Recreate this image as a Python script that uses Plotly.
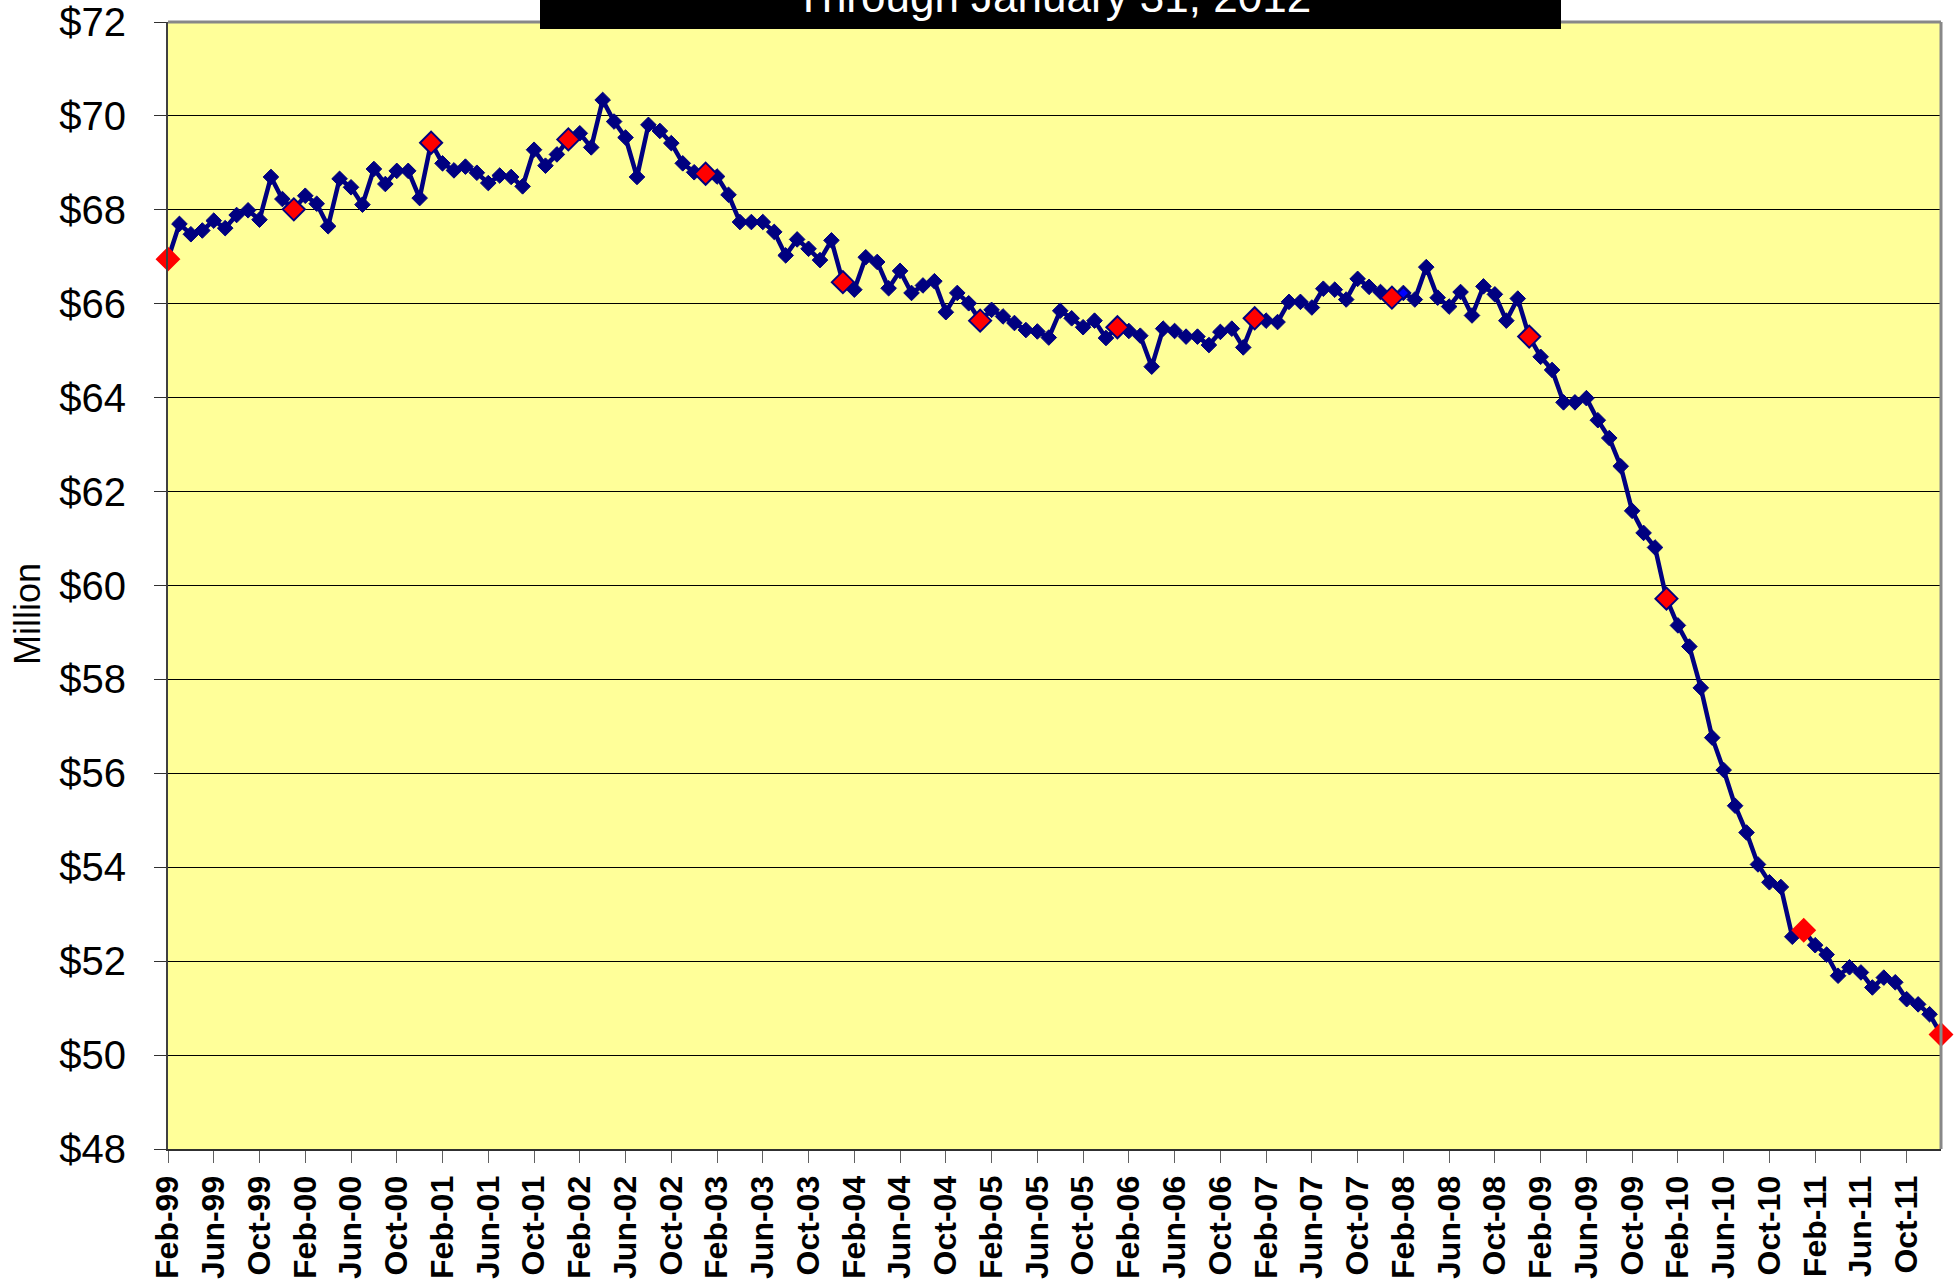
import plotly.graph_objects as go

# ---- data -------------------------------------------------------------
month_names = ["Jan", "Feb", "Mar", "Apr", "May", "Jun",
               "Jul", "Aug", "Sep", "Oct", "Nov", "Dec"]
start_year, start_month = 1999, 2     # Feb-99
n_months = 156                        # through Jan-12

categories = []
for i in range(n_months):
    mi = (start_month - 1 + i) % 12
    yr = start_year + (start_month - 1 + i) // 12
    categories.append(f"{month_names[mi]}-{yr % 100:02d}")

values = [
    66.95, 67.70, 67.48, 67.56, 67.77, 67.61, 67.89, 67.99, 67.79, 68.70,
    68.23, 68.01, 68.30, 68.13, 67.65, 68.66, 68.48, 68.11, 68.87, 68.55,
    68.83, 68.83, 68.25, 69.43, 68.99, 68.84, 68.92, 68.79, 68.57, 68.73,
    68.70, 68.50, 69.28, 68.94, 69.18, 69.50, 69.63, 69.33, 70.34, 69.88,
    69.54, 68.70, 69.81, 69.68, 69.42, 68.99, 68.80, 68.77, 68.71, 68.32,
    67.74, 67.74, 67.74, 67.53, 67.03, 67.37, 67.17, 66.93, 67.35, 66.46,
    66.30, 66.99, 66.89, 66.33, 66.70, 66.23, 66.39, 66.48, 65.82, 66.23,
    66.01, 65.64, 65.87, 65.73, 65.59, 65.44, 65.41, 65.28, 65.85, 65.69,
    65.50, 65.64, 65.27, 65.50, 65.42, 65.32, 64.66, 65.47, 65.42, 65.30,
    65.30, 65.12, 65.40, 65.47, 65.07, 65.69, 65.64, 65.61, 66.04, 66.04,
    65.92, 66.32, 66.30, 66.09, 66.53, 66.36, 66.25, 66.13, 66.23, 66.09,
    66.78, 66.13, 65.94, 66.25, 65.75, 66.37, 66.20, 65.64, 66.11, 65.30,
    64.87, 64.59, 63.90, 63.90, 63.99, 63.52, 63.14, 62.54, 61.59, 61.12,
    60.81, 59.72, 59.15, 58.70, 57.82, 56.76, 56.07, 55.31, 54.74, 54.06,
    53.68, 53.58, 52.52, 52.66, 52.34, 52.14, 51.69, 51.87, 51.76, 51.44,
    51.65, 51.55, 51.19, 51.08, 50.87, 50.44,
]

# highlighted points: first month and each January
highlight_idx = [0] + [i for i, c in enumerate(categories) if c.startswith("Jan")]
small_blue_idx = [108]

tick_labels = categories[::4]
y_ticks = list(range(48, 73, 2))
y_tick_text = [f"${v}" for v in y_ticks]

# ---- figure -----------------------------------------------------------
NAVY = "#000080"
W, H = 1954, 1287
L, R, T, B = 168, 13, 22, 138
plot_h = H - T - B
plot_w = W - L - R

def py(pix):
    """page pixel y -> paper y"""
    return 1 - (pix - T) / plot_h

def px(pix):
    """page pixel x -> paper x"""
    return (pix - L) / plot_w

fig = go.Figure()

fig.add_trace(go.Scatter(
    x=categories, y=values, mode="lines+markers",
    line=dict(color=NAVY, width=4.5),
    marker=dict(symbol="diamond", size=12, color=NAVY,
                line=dict(color=NAVY, width=1)),
    cliponaxis=False, showlegend=False, hoverinfo="x+y",
))

red_line_colors = ["#FF0000" if (i == 0 or i >= 143) else NAVY for i in highlight_idx]
fig.add_trace(go.Scatter(
    x=[categories[i] for i in highlight_idx],
    y=[values[i] for i in highlight_idx],
    mode="markers",
    marker=dict(symbol="diamond", size=17, color="#FF0000",
                line=dict(color=red_line_colors, width=2)),
    cliponaxis=False, showlegend=False, hoverinfo="x+y",
))

fig.add_trace(go.Scatter(
    x=[categories[i] for i in small_blue_idx],
    y=[values[i] for i in small_blue_idx],
    mode="markers",
    marker=dict(symbol="diamond", size=7, color="#0000FF",
                line=dict(color="#0000FF", width=0)),
    cliponaxis=False, showlegend=False, hoverinfo="x+y",
))

fig.update_layout(
    width=W, height=H,
    margin=dict(l=L, r=R, t=T, b=B, pad=0, autoexpand=False),
    paper_bgcolor="white",
    plot_bgcolor="#FFFF99",
    showlegend=False,
    font=dict(family="Liberation Sans, Arial, sans-serif", color="black"),
)

fig.update_xaxes(
    type="category", automargin=False,
    categoryorder="array", categoryarray=categories,
    range=[0, n_months - 1],
    tickmode="array", tickvals=tick_labels, ticktext=tick_labels,
    tickangle=-90,
    ticks="outside", ticklen=12, tickwidth=1, tickcolor="#606060",
    tickfont=dict(family="Liberation Sans, Arial, sans-serif", size=32,
                  weight="bold", color="black"),
    ticklabeloverflow="allow",
    showline=True, linecolor="#303030", linewidth=2,
    showgrid=False, zeroline=False,
)

fig.update_yaxes(
    range=[48, 72], automargin=False,
    tickmode="array", tickvals=y_ticks, ticktext=y_tick_text,
    ticks="outside", ticklen=12, tickwidth=1, tickcolor="#303030",
    ticklabelstandoff=20,
    ticklabeloverflow="allow",
    tickfont=dict(family="Liberation Sans Narrow, Arial Narrow, Liberation Sans, Arial",
                  size=40, color="black"),
    showline=True, linecolor="#404040", linewidth=2,
    showgrid=True, gridcolor="black", gridwidth=1,
    zeroline=False,
)

# grey frame on top and right
fig.add_shape(type="line", xref="paper", yref="paper", x0=0, x1=1, y0=1, y1=1,
              line=dict(color="#888888", width=3), layer="above")
fig.add_shape(type="line", xref="paper", yref="paper", x0=1, x1=1, y0=0, y1=1,
              line=dict(color="#888888", width=3), layer="above")

# black title box (partly above the page)
fig.add_shape(type="rect", xref="paper", yref="paper",
              x0=px(540), x1=px(1561), y0=py(29), y1=py(-40),
              fillcolor="black", line=dict(width=0), layer="above")
fig.add_annotation(
    text="Through January 31, 2012", xref="paper", yref="paper",
    x=px(1053), y=py(-4), xanchor="center", yanchor="middle",
    showarrow=False, font=dict(size=44, color="white",
                               family="Liberation Sans, Arial, sans-serif"),
)

# y axis title
fig.add_annotation(
    text="Million", xref="paper", yref="paper",
    x=px(27), y=py(614), xanchor="center", yanchor="middle",
    textangle=-90, showarrow=False,
    font=dict(size=36, color="black", family="Liberation Sans, Arial, sans-serif"),
)

fig.write_html(
    "out.html",
    config={"displayModeBar": False},
    post_script="document.body.style.margin='0px';document.body.style.padding='0px';",
)
